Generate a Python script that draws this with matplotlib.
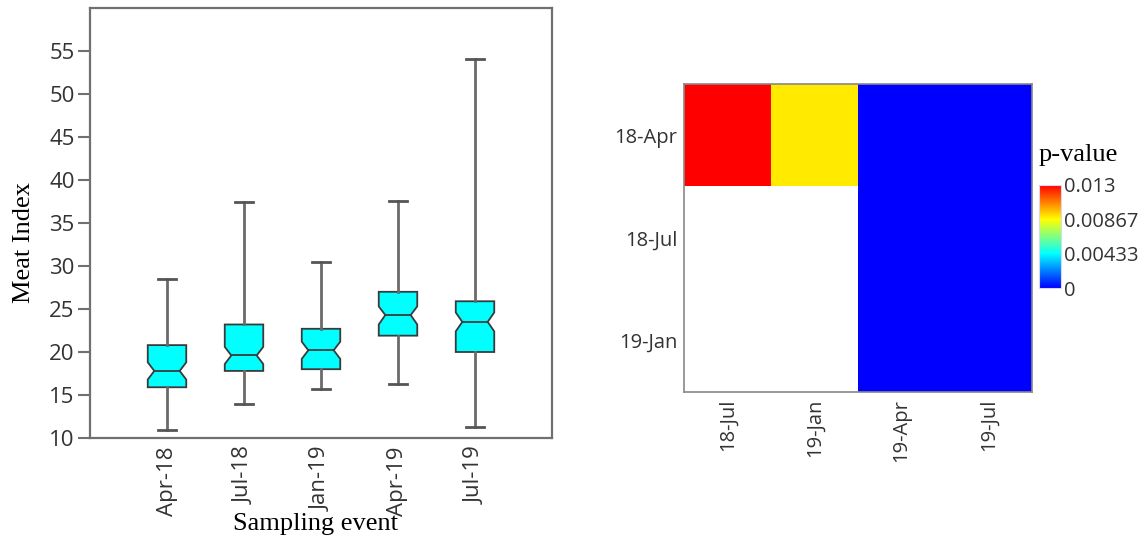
import numpy as np
import matplotlib
matplotlib.use("Agg")
import matplotlib.pyplot as plt
from matplotlib.colors import LinearSegmentedColormap

# ---------------- data ----------------
events = ['Apr-18', 'Jul-18', 'Jan-19', 'Apr-19', 'Jul-19']
whis_lo = [10.9, 13.9, 15.7, 16.3, 11.3]
q1 = [15.9, 17.8, 18.0, 21.9, 20.0]
median = [17.8, 19.6, 20.2, 24.3, 23.5]
q3 = [20.8, 23.2, 22.7, 27.0, 25.9]
whis_hi = [28.5, 37.5, 30.5, 37.6, 54.1]
ci_lo = [16.8, 18.6, 19.2, 23.2, 22.4]
ci_hi = [18.8, 20.6, 21.2, 25.3, 24.6]
y_ticks = [10, 15, 20, 25, 30, 35, 40, 45, 50, 55]

hm_rows = ['18-Apr', '18-Jul', '19-Jan']
hm_cols = ['18-Jul', '19-Jan', '19-Apr', '19-Jul']
p_row_18apr = [0.013, 0.009, 0.0, 0.0]
p_row_18jul = [np.nan, np.nan, 0.0, 0.0]
p_row_19jan = [np.nan, np.nan, 0.0, 0.0]
cbar_ticks = [0, 0.00433, 0.00867, 0.013]
cbar_labels = ['0', '0.00433', '0.00867', '0.013']

# ---------------- style ----------------
TICKFONT = ['Open Sans', 'DejaVu Sans']
SERIF = ['Liberation Serif', 'DejaVu Serif']
tick_color = '#333333'
spine_color = '#707070'
FS_L = 16
FS_R = 14.5

fig = plt.figure(figsize=(11.46, 5.40), dpi=100)

# ---------------- box plot ----------------
ax = fig.add_axes([90/1146, 1-438/540, (552-90)/1146, (438-8)/540])
stats = []
for i in range(len(events)):
    stats.append(dict(label=events[i], whislo=whis_lo[i], q1=q1[i], med=median[i],
                      q3=q3[i], whishi=whis_hi[i], cilo=ci_lo[i], cihi=ci_hi[i], fliers=[]))
positions = list(range(1, len(events)+1))
bw = 0.5
art = ax.bxp(stats, positions=positions, widths=bw, shownotches=True,
             patch_artist=True, showfliers=False, capwidths=0.23,
             boxprops=dict(facecolor='#00FFFF', edgecolor='#3a3a3a', linewidth=1.3),
             medianprops=dict(color='#3a3a3a', linewidth=1.3),
             whiskerprops=dict(color='#6a6a6a', linewidth=2.0),
             capprops=dict(color='#555555', linewidth=2.0))
# widen the notch waist (reference notch narrows to ~2/3 of the box width)
waist = 0.33
for pos, box, med in zip(positions, art['boxes'], art['medians']):
    v = box.get_path().vertices
    for k in range(len(v)):
        if abs(abs(v[k, 0] - pos) - bw * 0.25) < 1e-6:
            v[k, 0] = pos + np.sign(v[k, 0] - pos) * bw * waist
    med.set_xdata([pos - bw * waist, pos + bw * waist])

ax.set_xlim(0, 6)
ax.set_ylim(10, 60)
ax.set_yticks(y_ticks)
ax.set_yticklabels([str(v) for v in y_ticks], fontfamily=TICKFONT, fontsize=FS_L, color=tick_color)
ax.set_xticks(positions)
ax.set_xticklabels(events, rotation=90, fontfamily=TICKFONT, fontsize=FS_L, color=tick_color)
ax.tick_params(axis='x', length=0, pad=6)
ax.tick_params(axis='y', length=9, width=1.5, color=spine_color, pad=2)
for s in ax.spines.values():
    s.set_color(spine_color)
    s.set_linewidth(1.6)
ax.set_ylabel('Meat Index', fontfamily=SERIF, fontsize=19, color='black')
ax.yaxis.set_label_coords(-0.119, 0.455)
ax.set_xlabel('Sampling event', fontfamily=SERIF, fontsize=19, color='black')
ax.xaxis.set_label_coords(0.488, -0.174)

# ---------------- heatmap ----------------
cmap = LinearSegmentedColormap.from_list(
    'pv', [(0.0, '#0000FF'), (1/3, '#00FFFF'), (2/3, '#FFFF00'), (1.0, '#FF0000')])
cmap.set_bad('white')
pmat = np.ma.masked_invalid(np.array([p_row_18apr, p_row_18jul, p_row_19jan]))

hx = fig.add_axes([684/1146, 1-392/540, (1032-684)/1146, (392-84)/540])
im = hx.imshow(pmat, cmap=cmap, vmin=0, vmax=0.013, aspect='auto', interpolation='nearest')
hx.set_xticks(range(len(hm_cols)))
hx.set_xticklabels(hm_cols, rotation=90, fontfamily=TICKFONT, fontsize=FS_R, color=tick_color)
hx.set_yticks(range(len(hm_rows)))
hx.set_yticklabels(hm_rows, fontfamily=TICKFONT, fontsize=FS_R, color=tick_color)
hx.tick_params(length=0, pad=5)
for s in hx.spines.values():
    s.set_color('#888888')
    s.set_linewidth(1.2)

cax = fig.add_axes([1039/1146, 1-288/540, 22/1146, 103/540])
cb = fig.colorbar(im, cax=cax, ticks=cbar_ticks)
cb.ax.set_yticklabels(cbar_labels, fontfamily=TICKFONT, fontsize=FS_R, color=tick_color)
cb.ax.tick_params(length=0, pad=2)
cb.outline.set_edgecolor('#d8d8f0')
cb.outline.set_linewidth(0.8)
fig.text(1039/1146, 1-155/540, 'p-value', fontfamily=SERIF, fontsize=19, color='black',
         ha='left', va='center')

fig.savefig('out.png', dpi=100)
